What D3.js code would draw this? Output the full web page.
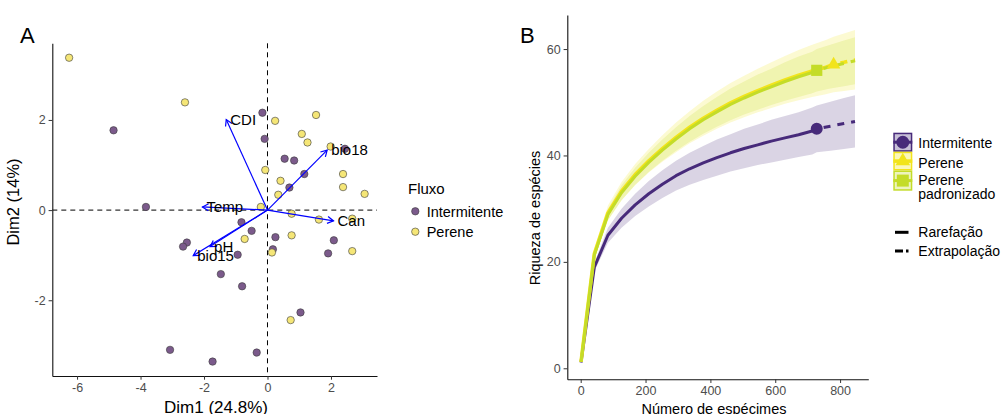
<!DOCTYPE html>
<html>
<head>
<meta charset="utf-8">
<script src="https://cdn.jsdelivr.net/npm/d3@7"></script>
<style>
  html, body { margin: 0; padding: 0; background: #fff; }
  svg { display: block; font-family: "Liberation Sans", Arial, Helvetica, sans-serif; }
</style>
</head>
<body>
<svg id="fig" width="1003" height="414"></svg>
<script>
// ---------- Panel A: PCA biplot ----------
const intermitenteDim1 = [-4.85, -0.16, -0.09, 2.44, 0.54, 0.84, 1.16, 0.69, -3.83, -0.82, -0.50, 0.25, 2.09, -2.54, -2.66, 0.17, -0.94, 1.91, -1.47, -0.80, 1.04, -3.07, -0.34, -1.73];
const intermitenteDim2 = [1.77, 2.16, 1.58, 1.36, 1.14, 1.10, 0.80, 0.50, 0.07, -0.27, -0.46, -0.60, -0.67, -0.72, -0.81, -0.87, -0.99, -0.96, -1.42, -1.69, -2.27, -3.10, -3.16, -3.36];
const pereneDim1 = [-6.25, -2.60, 0.24, 1.53, 1.08, 1.26, 1.99, -0.07, 2.38, 0.41, 2.38, 0.34, 3.06, -0.21, 0.76, 1.62, 2.67, 0.76, -0.72, 0.14, 2.67, 0.73];
const pereneDim2 = [3.38, 2.39, 1.98, 2.11, 1.69, 1.50, 1.41, 0.89, 0.80, 0.65, 0.51, 0.34, 0.36, 0.07, -0.08, -0.21, -0.19, -0.56, -0.64, -0.94, -0.91, -2.44];

const varNames = ["CDI", "bio18", "Temp", "Can", "pH", "bio15"];
const varDim1 = [-1.30, 1.88, -2.05, 2.08, -1.81, -2.34];
const varDim2 = [2.01, 1.33, 0.07, -0.24, -0.81, -1.01];

const ticksA_x = [-6, -4, -2, 0, 2];
const ticksA_y = [-2, 0, 2];
const fluxoLevels = ["Intermitente", "Perene"];

// ---------- Panel B: rarefaction / extrapolation curves ----------
const sizesIntermitente = [1, 42, 84, 126, 168, 210, 252, 294, 336, 378, 420, 462, 504, 546, 588, 630, 672, 714, 728, 770, 812, 846];
const richIntermitente = [1.1, 19.0, 25.0, 28.2, 30.7, 32.8, 34.6, 36.2, 37.5, 38.6, 39.6, 40.5, 41.3, 42.0, 42.7, 43.3, 43.9, 44.6, 45.0, 45.5, 46.0, 46.4];
const lowIntermitente = [1.1, 18.2, 23.6, 26.4, 28.6, 30.4, 32.0, 33.4, 34.5, 35.4, 36.2, 37.0, 37.6, 38.2, 38.7, 39.2, 39.7, 40.2, 40.6, 40.9, 41.2, 41.5];
const highIntermitente = [1.1, 19.8, 26.4, 30.0, 32.8, 35.2, 37.2, 39.0, 40.5, 41.8, 43.0, 44.0, 45.0, 45.8, 46.7, 47.4, 48.1, 49.0, 49.4, 50.1, 50.8, 51.3];
const refIntermitente = 728;

const sizesPerene = [1, 42, 84, 126, 168, 210, 252, 294, 336, 378, 420, 462, 504, 546, 588, 630, 672, 714, 756, 780, 812, 846];
const richPerene = [1.2, 21.5, 29.2, 33.3, 36.4, 39.0, 41.3, 43.4, 45.3, 47.0, 48.5, 49.9, 51.1, 52.2, 53.2, 54.2, 55.1, 55.9, 56.6, 57.1, 57.5, 58.0];
const lowPerene = [1.2, 20.6, 27.8, 31.6, 34.4, 36.8, 38.8, 40.6, 42.3, 43.7, 45.0, 46.2, 47.2, 48.1, 48.9, 49.7, 50.4, 51.0, 51.5, 51.9, 52.1, 52.4];
const highPerene = [1.2, 22.4, 30.6, 35.0, 38.4, 41.2, 43.8, 46.2, 48.3, 50.3, 52.0, 53.6, 55.0, 56.3, 57.5, 58.7, 59.8, 60.8, 61.7, 62.3, 62.9, 63.6];
const refPerene = 780;

const sizesPadronizado = [1, 42, 84, 126, 168, 210, 252, 294, 336, 378, 420, 462, 504, 546, 588, 630, 672, 714, 728, 770, 812, 846];
const richPadronizado = [1.2, 21.3, 28.9, 33.0, 36.1, 38.7, 41.0, 43.1, 45.0, 46.7, 48.2, 49.6, 50.8, 51.9, 52.9, 53.9, 54.8, 55.6, 56.0, 56.7, 57.3, 57.8];
const lowPadronizado = [1.2, 20.6, 27.8, 31.6, 34.5, 36.9, 39.0, 40.9, 42.6, 44.1, 45.4, 46.6, 47.7, 48.6, 49.5, 50.3, 51.0, 51.7, 52.0, 52.6, 53.0, 53.4];
const highPadronizado = [1.2, 22.0, 30.0, 34.4, 37.7, 40.5, 43.0, 45.3, 47.4, 49.3, 51.0, 52.6, 53.9, 55.2, 56.3, 57.5, 58.6, 59.5, 60.0, 60.8, 61.6, 62.2];
const refPadronizado = 728;

const ticksB_x = [0, 200, 400, 600, 800];
const ticksB_y = [0, 20, 40, 60];
const seriesLabels = ["Intermitente", "Perene", "Perene\npadronizado"];
const methodLabels = ["Rarefação", "Extrapolação"];

// ---------- styling ----------
const colPurplePt = "#7B5A8B";
const colYellowPt = "#F5E677";
const colInt = "#472A7A";
const colPer = "#F2E41C";
const colPad = "#C4DC28";
const tickCol = "#4D4D4D";

const svg = d3.select("#fig");
const fmt = d => String(d).replace("\u2212", "-");

function styleAxis(g) {
  g.select(".domain").attr("stroke", "#111").attr("stroke-width", 1.1);
  g.selectAll(".tick line").attr("stroke", "#333").attr("stroke-width", 1);
  g.selectAll(".tick text").attr("fill", tickCol).attr("font-size", 12.5)
    .attr("font-family", "Liberation Sans, Arial, sans-serif");
}

// ================= Panel A =================
const xA = d3.scaleLinear().domain([-6.78, 3.45]).range([52.3, 377]);
const yA = d3.scaleLinear().domain([3.70, -3.68]).range([43.3, 376]);
const gA = svg.append("g");

// reference lines through the origin
gA.append("line").attr("x1", xA.range()[0]).attr("x2", xA.range()[1])
  .attr("y1", yA(0)).attr("y2", yA(0))
  .attr("stroke", "#000").attr("stroke-width", 1).attr("stroke-dasharray", "5,4");
gA.append("line").attr("x1", xA(0)).attr("x2", xA(0))
  .attr("y1", yA.range()[0]).attr("y2", yA.range()[1])
  .attr("stroke", "#000").attr("stroke-width", 1).attr("stroke-dasharray", "5,4");

// sites
const sites = [];
intermitenteDim1.forEach((d, i) => sites.push({ x: d, y: intermitenteDim2[i], g: 0 }));
pereneDim1.forEach((d, i) => sites.push({ x: d, y: pereneDim2[i], g: 1 }));
gA.selectAll("circle.site").data(sites).enter().append("circle")
  .attr("class", "site")
  .attr("cx", d => xA(d.x)).attr("cy", d => yA(d.y)).attr("r", 3.7)
  .attr("fill", d => d.g === 0 ? colPurplePt : colYellowPt)
  .attr("stroke", "#3a3a3a").attr("stroke-width", 0.6);

// variable arrows
const vars = varNames.map((n, i) => ({ name: n, x: varDim1[i], y: varDim2[i] }));
const arrowG = gA.append("g");
vars.forEach(v => {
  const x0 = xA(0), y0 = yA(0), x1 = xA(v.x), y1 = yA(v.y);
  const ang = Math.atan2(y1 - y0, x1 - x0);
  const L = 7, a = Math.PI / 6;
  arrowG.append("line").attr("x1", x0).attr("y1", y0).attr("x2", x1).attr("y2", y1)
    .attr("stroke", "#0000FF").attr("stroke-width", 1.2);
  const p = d3.path();
  p.moveTo(x1 - L * Math.cos(ang - a), y1 - L * Math.sin(ang - a));
  p.lineTo(x1, y1);
  p.lineTo(x1 - L * Math.cos(ang + a), y1 - L * Math.sin(ang + a));
  arrowG.append("path").attr("d", p.toString()).attr("fill", "none")
    .attr("stroke", "#0000FF").attr("stroke-width", 1.2);
});
gA.selectAll("text.var").data(vars).enter().append("text")
  .attr("class", "var")
  .attr("x", d => xA(d.x) + 4).attr("y", d => yA(d.y))
  .attr("dy", "0.35em").attr("font-size", 15).attr("fill", "#000")
  .text(d => d.name);

// axes
gA.append("g").attr("transform", `translate(0,${yA.range()[1]})`)
  .call(d3.axisBottom(xA).tickValues(ticksA_x).tickFormat(fmt).tickSize(3.7).tickPadding(3).tickSizeOuter(0))
  .call(styleAxis);
gA.append("g").attr("transform", `translate(${xA.range()[0]},0)`)
  .call(d3.axisLeft(yA).tickValues(ticksA_y).tickFormat(fmt).tickSize(3.7).tickPadding(3).tickSizeOuter(0))
  .call(styleAxis);

gA.append("text").attr("x", 216).attr("y", 412.5).attr("text-anchor", "middle")
  .attr("font-size", 17).text("Dim1 (24.8%)");
gA.append("text").attr("transform", "translate(18.5,202) rotate(-90)").attr("text-anchor", "middle")
  .attr("font-size", 16.5).text("Dim2 (14%)");
gA.append("text").attr("x", 20).attr("y", 42.5).attr("font-size", 22).text("A");

// legend "Fluxo"
const legA = gA.append("g");
legA.append("text").attr("x", 408).attr("y", 193.5).attr("font-size", 15).text("Fluxo");
fluxoLevels.forEach((lab, i) => {
  const cy = 211.3 + i * 20.4;
  legA.append("circle").attr("cx", 415.3).attr("cy", cy).attr("r", 3.7)
    .attr("fill", i === 0 ? colPurplePt : colYellowPt).attr("stroke", "#3a3a3a").attr("stroke-width", 0.6);
  legA.append("text").attr("x", 426.7).attr("y", cy).attr("dy", "0.36em").attr("font-size", 14.5).text(lab);
});

// ================= Panel B =================
const xB = d3.scaleLinear().domain([-41.3, 887]).range([567.3, 868.3]);
const yB = d3.scaleLinear().domain([-2.07, 66.4]).range([379.3, 15]);
const gB = svg.append("g");

const series = [
  { sizes: sizesIntermitente, rich: richIntermitente, lo: lowIntermitente, hi: highIntermitente, ref: refIntermitente, col: colInt, alpha: 0.2, lw: 3, shape: d3.symbolCircle, symSize: 113 },
  { sizes: sizesPerene, rich: richPerene, lo: lowPerene, hi: highPerene, ref: refPerene, col: colPer, alpha: 0.2, lw: 3.6, shape: d3.symbolTriangle, symSize: 80 },
  { sizes: sizesPadronizado, rich: richPadronizado, lo: lowPadronizado, hi: highPadronizado, ref: refPadronizado, col: colPad, alpha: 0.2, lw: 3, shape: d3.symbolSquare, symSize: 125 }
];
series.forEach(s => {
  s.pts = s.sizes.map((m, i) => ({ m, y: s.rich[i], lo: s.lo[i], hi: s.hi[i] }));
});

const area = d3.area().x(d => xB(d.m)).y0(d => yB(d.lo)).y1(d => yB(d.hi));
const line = d3.line().x(d => xB(d.m)).y(d => yB(d.y));

series.forEach(s => {
  gB.append("path").attr("d", area(s.pts)).attr("fill", s.col).attr("fill-opacity", s.alpha).attr("stroke", "none");
});
series.forEach(s => {
  const rare = s.pts.filter(d => d.m <= s.ref);
  const extra = s.pts.filter(d => d.m >= s.ref);
  gB.append("path").attr("d", line(rare)).attr("fill", "none").attr("stroke", s.col)
    .attr("stroke-width", s.lw).attr("stroke-linejoin", "round");
  gB.append("path").attr("d", line(extra)).attr("fill", "none").attr("stroke", s.col)
    .attr("stroke-width", s.lw).attr("stroke-dasharray", "7,7").attr("stroke-dashoffset", -7);
});
series.forEach(s => {
  const r = s.pts.find(d => d.m === s.ref);
  gB.append("path").attr("d", d3.symbol().type(s.shape).size(s.symSize)())
    .attr("transform", `translate(${xB(r.m)},${yB(r.y)})`).attr("fill", s.col);
});

gB.append("g").attr("transform", `translate(0,${yB.range()[0]})`)
  .call(d3.axisBottom(xB).tickValues(ticksB_x).tickSize(3.7).tickPadding(3).tickSizeOuter(0))
  .call(styleAxis);
gB.append("g").attr("transform", `translate(${xB.range()[0]},0)`)
  .call(d3.axisLeft(yB).tickValues(ticksB_y).tickSize(3.7).tickPadding(3).tickSizeOuter(0))
  .call(styleAxis);

gB.append("text").attr("x", 714).attr("y", 414).attr("text-anchor", "middle")
  .attr("font-size", 14.5).text("Número de espécimes");
gB.append("text").attr("transform", "translate(540,218) rotate(-90)").attr("text-anchor", "middle")
  .attr("font-size", 14.5).text("Riqueza de espécies");
gB.append("text").attr("x", 520).attr("y", 42.5).attr("font-size", 22).text("B");

// legend: series keys
const legB = gB.append("g");
const keyTops = [132.7, 151.7, 170.5];
const keyHeights = [19, 18.8, 20.2];
series.forEach((s, i) => {
  const kx = 893.3, ky = keyTops[i], kw = 19, kh = keyHeights[i];
  legB.append("rect").attr("x", kx + 0.75).attr("y", ky + 0.75).attr("width", kw - 1.5).attr("height", kh - 1.5)
    .attr("fill", s.col).attr("fill-opacity", 0.3).attr("stroke", s.col).attr("stroke-width", 1.5);
  legB.append("line").attr("x1", kx).attr("x2", kx + kw).attr("y1", ky + kh / 2).attr("y2", ky + kh / 2)
    .attr("stroke", s.col).attr("stroke-width", s.lw);
  legB.append("path").attr("d", d3.symbol().type(s.shape).size(s.symSize * 1.15)())
    .attr("transform", `translate(${kx + kw / 2},${ky + kh / 2})`).attr("fill", s.col);
});
const labY = [142.7, 162.7, 180];
seriesLabels.forEach((lab, i) => {
  const t = legB.append("text").attr("x", 918.3).attr("y", labY[i]).attr("font-size", 14);
  lab.split("\n").forEach((ln, j) => {
    t.append("tspan").attr("x", 918.3).attr("dy", j === 0 ? "0.36em" : "1.0em").text(ln);
  });
});

// legend: method line types
const methY = [232.3, 251];
methodLabels.forEach((lab, i) => {
  legB.append("line").attr("x1", 895).attr("x2", 908.5).attr("y1", methY[i]).attr("y2", methY[i])
    .attr("stroke", "#000").attr("stroke-width", 3)
    .attr("stroke-dasharray", i === 0 ? null : "8,3");
  legB.append("text").attr("x", 918.3).attr("y", methY[i]).attr("dy", "0.36em").attr("font-size", 14).text(lab);
});
</script>
</body>
</html>
